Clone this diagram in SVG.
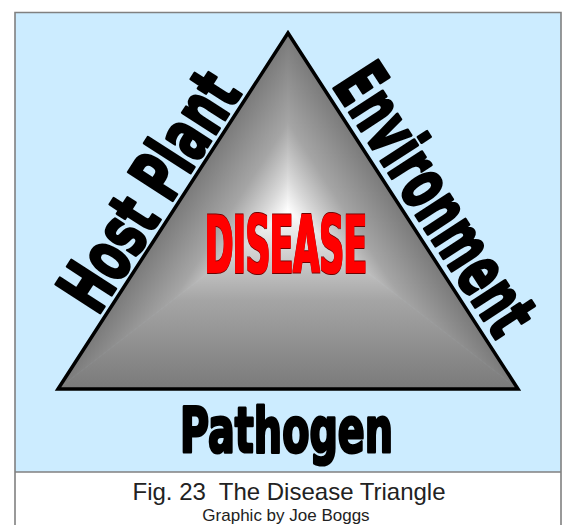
<svg xmlns="http://www.w3.org/2000/svg" xmlns:xlink="http://www.w3.org/1999/xlink" width="563" height="525" viewBox="0 0 563 525">
  <style>
    .label { font-family: "DejaVu Sans", "Liberation Sans", sans-serif; font-weight: bold; fill: #000; stroke: #000; stroke-width: 2.6; stroke-linejoin: round; vector-effect: non-scaling-stroke; }
    .cap { font-family: "Liberation Sans", Arial, sans-serif; fill: #222; }
  </style>
  <defs>
    <linearGradient id="gBottom" gradientUnits="userSpaceOnUse" x1="288" y1="389" x2="288" y2="211">
      <stop offset="0" stop-color="#7a7a7a"/>
      <stop offset="0.5" stop-color="#a5a5a5"/>
      <stop offset="0.8" stop-color="#d8d8d8"/>
      <stop offset="1" stop-color="#ffffff"/>
    </linearGradient>
    <linearGradient id="gLeft" gradientUnits="userSpaceOnUse" x1="206.9" y1="158.6" x2="288" y2="211" xlink:href="#gBottom"/>
    <linearGradient id="gRight" gradientUnits="userSpaceOnUse" x1="369.1" y1="158.6" x2="288" y2="211" xlink:href="#gBottom"/>
    <filter id="redText" x="-10%" y="-20%" width="120%" height="140%">
      <feMorphology in="SourceAlpha" operator="dilate" radius="2.4 1.4" result="outer"/>
      <feFlood flood-color="#6e0000"/>
      <feComposite in2="outer" operator="in" result="outline"/>
      <feMorphology in="SourceGraphic" operator="dilate" radius="1.3 0.4" result="body"/>
      <feMerge>
        <feMergeNode in="outline"/>
        <feMergeNode in="body"/>
      </feMerge>
    </filter>
  </defs>

  <!-- frame -->
  <rect x="0" y="0" width="563" height="525" fill="#ffffff"/>
  <rect x="15" y="12.5" width="546" height="459.5" fill="#ccecff"/>
  <path d="M15,530 V12.5 H561 V530" fill="none" stroke="#808080" stroke-width="1.6"/>
  <line x1="15" y1="472" x2="561" y2="472" stroke="#808080" stroke-width="1.6"/>

  <!-- triangle -->
  <g id="triangle">
    <polygon points="288,211 58,389 518,389" fill="url(#gBottom)" stroke="url(#gBottom)" stroke-width="0.8"/>
    <polygon points="288,211 288,33 58,389" fill="url(#gLeft)" stroke="url(#gLeft)" stroke-width="0.8"/>
    <polygon points="288,211 288,33 518,389" fill="url(#gRight)" stroke="url(#gRight)" stroke-width="0.8"/>
    <polygon points="288,33 58,389 518,389" fill="none" stroke="#000" stroke-width="3.5" stroke-linejoin="miter"/>
  </g>

  <g id="disease">
    <text transform="translate(205,273) scale(0.423,1)" x="0" y="0" font-family="DejaVu Sans, Liberation Sans, sans-serif" font-weight="bold" font-size="80" fill="#ff0000" textLength="383" lengthAdjust="spacingAndGlyphs" filter="url(#redText)">DISEASE</text>
  </g>

  <g id="host-plant">
    <text class="label" transform="translate(97.5,316.8) rotate(-57.13) scale(0.63,1)" x="0" y="0" font-size="72" textLength="424" lengthAdjust="spacingAndGlyphs">Host Plant</text>
  </g>

  <g id="environment">
    <text class="label" transform="translate(331.5,84.7) rotate(57.13) scale(0.589,1)" x="0" y="0" font-size="72" textLength="518" lengthAdjust="spacingAndGlyphs">Environment</text>
  </g>

  <g id="pathogen">
    <text class="label" transform="translate(180,452) scale(0.638,1)" x="0" y="0" font-size="62" textLength="334" lengthAdjust="spacingAndGlyphs">Pathogen</text>
  </g>

  <g id="caption">
    <text class="cap" x="289" y="500" font-size="24" text-anchor="middle" xml:space="preserve">Fig. 23  The Disease Triangle</text>
    <text class="cap" x="286" y="520.5" font-size="17" text-anchor="middle">Graphic by Joe Boggs</text>
  </g>
</svg>
